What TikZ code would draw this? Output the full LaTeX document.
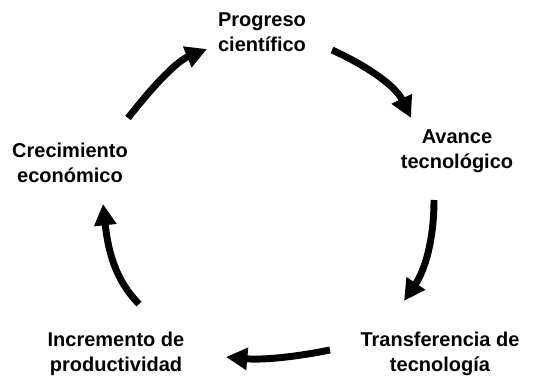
\documentclass[tikz,border=0pt]{standalone}
\usepackage{fontspec}
\setmainfont{Liberation Sans}
\usetikzlibrary{arrows.meta}

\begin{document}
\begin{tikzpicture}[x=0.75pt,y=0.75pt,yscale=-1,xscale=1,
  stage/.style={inner sep=0.75pt,align=center,font=\bfseries\fontsize{15}{18.5}\selectfont},
  cyclearrow/.style={line width=5.2pt,-{Triangle[length=16pt,width=16pt]}}]
\useasboundingbox (0,0) rectangle (536,377);

% Text Node
\node [stage] (progreso) at (262,32) {Progreso\\científico};
% Text Node
\node [stage] (avance) at (457,151) {Avance\\tecnológico};
% Text Node
\node [stage] (transfer) at (440,354) {Transferencia de\\tecnología};
% Text Node
\node [stage] (incremento) at (116,354) {Incremento de\\productividad};
% Text Node
\node [stage] (crecimiento) at (70,163) {Crecimiento\\económico};

%Arrow ends
\coordinate (a1s) at (128,118);
\coordinate (a1e) at (207,49);
\coordinate (a2s) at (332,50);
\coordinate (a2e) at (411,118);
\coordinate (a3s) at (434,200);
\coordinate (a3e) at (404,301);
\coordinate (a4s) at (330,350);
\coordinate (a4e) at (226,357);
\coordinate (a5s) at (139,304);
\coordinate (a5e) at (103,204);

%Curve Lines
\draw [cyclearrow] (a1s) .. controls (150,90) and (175,62) .. (a1e);
\draw [cyclearrow] (a2s) .. controls (365,65) and (395,85) .. (a2e);
\draw [cyclearrow] (a3s) .. controls (434,240) and (425,270) .. (a3e);
\draw [cyclearrow] (a4s) .. controls (290,358) and (260,360) .. (a4e);
\draw [cyclearrow] (a5s) .. controls (115,280) and (108,250) .. (a5e);

\end{tikzpicture}
\end{document}
